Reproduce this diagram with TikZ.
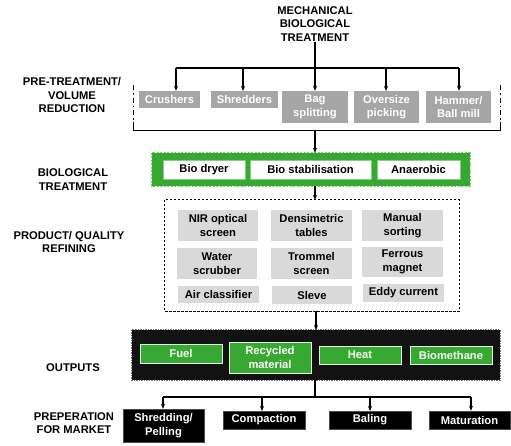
\documentclass[tikz,border=0pt]{standalone}
\usepackage{fontspec}
\setmainfont{Liberation Sans}
\usetikzlibrary{arrows.meta}
\definecolor{mgray}{HTML}{A6A6A6}
\definecolor{lgray}{HTML}{D9D9D9}
\definecolor{mgreen}{HTML}{37A831}
\definecolor{lgreen}{HTML}{7FCC7A}
\tikzset{
  base/.style={font=\fontsize{11.2}{13.5}\selectfont\bfseries, align=center, inner sep=0pt},
  lab/.style={base, text=black},
  graybox/.style={base, fill=mgray, text=white},
  lightbox/.style={base, fill=lgray, text=black},
  whitebox/.style={base, fill=white, text=black, draw=mgreen!60!white, line width=0.5pt},
  greenbox/.style={base, fill=mgreen, text=white, draw=white!85!mgreen, line width=0.8pt},
  blackbox/.style={base, fill=black, text=white, draw=black!70, line width=0.5pt},
  conn/.style={line width=1.1pt, black},
  arr/.style={conn, -{Stealth[length=5pt,width=4pt]}},
}
\newcommand{\bx}[6]{\node[#1, minimum width=#4-#2, minimum height=#5-#3] (#6) at ({(#2+#4)/2},{(#3+#5)/2})}
\begin{document}
\begin{tikzpicture}[x=1pt,y=-1pt]
\useasboundingbox (0,0) rectangle (511,445);
% title
\node[lab] (mbt) at (315,24) {MECHANICAL\\BIOLOGICAL\\TREATMENT};
% left labels
\node[lab] (l1) at (72,95) {PRE-TREATMENT/\\VOLUME\\REDUCTION};
\node[lab] (l2) at (73,179.5) {BIOLOGICAL\\TREATMENT};
\node[lab] (l3) at (69,242) {PRODUCT/ QUALITY\\REFINING};
\node[lab] (l4) at (73,368) {OUTPUTS};
\node[lab] (l5) at (74,423) {PREPERATION\\FOR MARKET};
% pre-treatment boxes
\bx{graybox}{139}{91}{200}{108}{crush} {Crushers};
\bx{graybox}{211}{91}{278}{108}{shred} {Shredders};
\bx{graybox}{282}{91}{348}{123}{bag} {Bag\\splitting};
\bx{graybox}{354}{91}{419}{123}{over} {Oversize\\picking};
\bx{graybox}{426}{91}{491}{123}{hamm} {Hammer/\\Ball mill};
% bracket
\draw[line width=1pt, dash pattern=on 5pt off 3pt on 1.5pt off 3pt] (133,85) -- (133,122);
\draw[line width=1pt, dash pattern=on 5pt off 3pt on 1.5pt off 3pt] (500,85) -- (500,122);
\coordinate (bl) at (133,130);
\coordinate (br) at (500,130);
\draw[line width=1pt] (133,122) -- (bl) -- (br) -- (500,122);
% top connectors
\coordinate (tj) at (315,68);
\coordinate (tl) at (176,68);
\coordinate (tr) at (459,68);
\draw[conn] (mbt.south) -- (tj);
\draw[conn] (tl) -- (tr);
\draw[arr] (tl) -- (tl |- crush.north);
\draw[arr] (243,68) -- (243,91);
\draw[arr] (mbt.south) -- (bag.north);
\draw[arr] (386,68) -- (386,91);
\draw[arr] (tr) -- (tr |- hamm.north);
% biological
\bx{base}{152}{153}{470}{186}{bio} {};
\fill[mgreen] (bio.north west) rectangle (bio.south east);
\draw[lgreen, line width=0.8pt, dash pattern=on 2pt off 1.5pt] (bio.north west) rectangle (bio.south east);
\bx{whitebox}{163}{160}{245}{179}{dryer} {Bio dryer};
\bx{whitebox}{250}{160}{371}{179}{stab} {Bio stabilisation};
\bx{whitebox}{377}{160}{460}{179}{anae} {Anaerobic};
\coordinate (bm) at (315,130);
\draw[arr] (bm) -- (bm |- bio.north);
% refining
\bx{base}{165}{200}{459}{311}{ref} {};
\draw[line width=0.8pt, dash pattern=on 2.5pt off 1.5pt] (ref.north west) rectangle (ref.south east);
\draw[arr] (bio.south -| 315,0) -- (315,200);
\bx{lightbox}{178}{210}{258}{241}{nir} {NIR optical\\screen};
\bx{lightbox}{271}{210}{352}{241}{dens} {Densimetric\\tables};
\bx{lightbox}{362}{210}{443}{241}{manu} {Manual\\sorting};
\bx{lightbox}{177}{248}{257}{279}{wate} {Water\\scrubber};
\bx{lightbox}{271}{248}{352}{279}{trom} {Trommel\\screen};
\bx{lightbox}{362}{247}{443}{277}{ferr} {Ferrous\\magnet};
\bx{lightbox}{178}{286}{259}{303}{airc} {Air classifier};
\bx{lightbox}{272}{286}{352}{304}{slev} {Sleve};
\bx{lightbox}{363}{284}{444}{302}{eddy} {Eddy current};
% outputs
\bx{base}{132}{330}{500}{380}{out} {};
\fill[black!93] (out.north west) rectangle (out.south east);
\draw[black!55, line width=0.8pt, dash pattern=on 1.5pt off 1pt] (out.north west) rectangle (out.south east);
\draw[arr] (316,311) -- (316,330);
\bx{greenbox}{140}{344}{222}{363}{fuel} {Fuel};
\bx{greenbox}{229}{342}{311}{373}{recy} {Recycled\\material};
\bx{greenbox}{319}{346}{401}{364}{heat} {Heat};
\bx{greenbox}{410}{346}{492}{364}{biom} {Biomethane};
% market
\bx{blackbox}{123}{409}{204}{442}{shpe} {Shredding/\\Pelling};
\bx{blackbox}{223}{411}{305}{429}{comp} {Compaction};
\bx{blackbox}{329}{411}{411}{429}{bali} {Baling};
\bx{blackbox}{429}{411}{510}{429}{matu} {Maturation};
\coordinate (oj) at (315,397);
\coordinate (ol) at (163,397);
\coordinate (or) at (471,397);
\draw[conn] (315,380) -- (oj);
\draw[conn] (ol) -- (or);
\draw[arr] (ol) -- (ol |- shpe.north);
\draw[arr] (262,397) -- (262,411);
\draw[arr] (370,397) -- (370,411);
\draw[arr] (or) -- (or |- matu.north);
\end{tikzpicture}
\end{document}
